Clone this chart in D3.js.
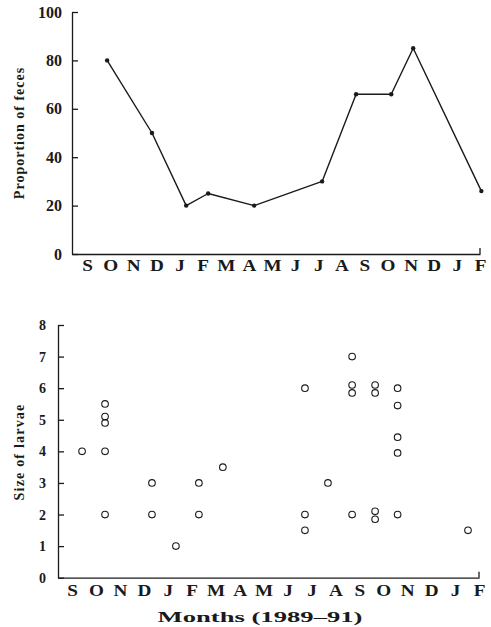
<!DOCTYPE html>
<html>
<head>
<meta charset="utf-8">
<script src="https://cdn.jsdelivr.net/npm/d3@7"></script>
<style>
  body { margin: 0; background: #fff; }
  svg { display: block; }
  .axis text { font-family: "Liberation Serif", "DejaVu Serif", serif; font-weight: bold; fill: #1a1a1a; }
  .axis path, .axis line { stroke: #1a1a1a; stroke-width: 1.3; }
</style>
</head>
<body>
<div class="chart"></div>
<script>
// month labels on both x axes (Sep 1989 .. Feb 1991)
const months = ["S","O","N","D","J","F","M","A","M","J","J","A","S","O","N","D","J","F"];

// top panel: proportion of feces, x as fractional month index
const fecesMonth = [0.87, 2.81, 4.29, 5.24, 7.23, 10.17, 11.64, 13.16, 14.11, 17.06];
const fecesValue = [80, 50, 20, 25, 20, 30, 66, 66, 85, 26];
const fecesTicks = [0, 20, 40, 60, 80, 100];

// bottom panel: size of larvae
const larvaeMonth = [0.42, 1.38, 1.38, 1.38, 1.38, 1.38, 3.34, 3.34, 4.34, 5.3, 5.3, 6.3,
                     9.73, 9.73, 9.73, 10.69, 11.7, 11.7, 11.7, 11.7, 12.66, 12.66, 12.66, 12.66,
                     13.6, 13.6, 13.6, 13.6, 13.6, 16.54];
const larvaeSize = [4, 5.5, 5.1, 4.9, 4, 2, 3, 2, 1, 3, 2, 3.5,
                    6, 2, 1.5, 3, 7, 6.1, 5.85, 2, 6.1, 5.85, 2.1, 1.85,
                    6, 5.45, 4.45, 3.95, 2, 1.5];
const larvaeTicks = [0, 1, 2, 3, 4, 5, 6, 7, 8];

const W = 491, H = 627;
const ink = "#1a1a1a";

const svg = d3.select(".chart").append("svg")
    .attr("width", W)
    .attr("height", H);

// month letters in the scan are set in a wide face, so stretch them a bit
const widen = (sel) => sel.style("font-size", "16px").attr("transform", "scale(1.2,1)");

// ---------- top panel ----------
const x1 = d3.scaleLinear().domain([-0.65, 17]).range([72, 480]);
const y1 = d3.scaleLinear().domain([0, 100]).range([254, 12]);

svg.append("g")
    .attr("class", "axis")
    .attr("transform", "translate(72,0)")
    .call(d3.axisLeft(y1).tickValues(fecesTicks).tickSize(-6).tickSizeOuter(0).tickPadding(10))
    .selectAll("text").style("font-size", "16px");

svg.append("g")
    .attr("class", "axis")
    .attr("transform", "translate(0,254)")
    .call(d3.axisBottom(x1).tickValues(d3.range(months.length)).tickFormat((d, i) => months[i])
        .tickSize(0).tickSizeOuter(0).tickPadding(6))
    .selectAll("text").call(widen);

svg.append("line")
    .attr("x1", x1(17)).attr("x2", x1(17))
    .attr("y1", 254).attr("y2", 248)
    .attr("stroke", ink).attr("stroke-width", 1.3);

const lineFunc = d3.line()
    .x((d, i) => x1(fecesMonth[i]))
    .y((d) => y1(d));

svg.append("path")
    .attr("d", lineFunc(fecesValue))
    .attr("fill", "none")
    .attr("stroke", ink)
    .attr("stroke-width", 1.4)
    .attr("stroke-linejoin", "round");

svg.selectAll(".dot")
    .data(fecesValue)
    .enter().append("circle")
    .attr("class", "dot")
    .attr("cx", (d, i) => x1(fecesMonth[i]))
    .attr("cy", (d) => y1(d))
    .attr("r", 2.2)
    .attr("fill", ink);

svg.append("text")
    .attr("transform", "translate(24,133) rotate(-90)")
    .attr("text-anchor", "middle")
    .style("font-family", "'Liberation Serif', serif")
    .style("font-weight", "bold")
    .style("font-size", "14px")
    .style("letter-spacing", "1px")
    .attr("fill", ink)
    .text("Proportion of feces");

// ---------- bottom panel ----------
const x2 = d3.scaleLinear().domain([-0.585, 17]).range([58, 479]);
const y2 = d3.scaleLinear().domain([0, 8]).range([577.7, 325]);

svg.append("g")
    .attr("class", "axis")
    .attr("transform", "translate(58,0)")
    .call(d3.axisLeft(y2).tickValues(larvaeTicks).tickSize(-6).tickSizeOuter(0).tickPadding(12))
    .selectAll("text").style("font-size", "14px");

svg.append("g")
    .attr("class", "axis")
    .attr("transform", "translate(0,577.7)")
    .call(d3.axisBottom(x2).tickValues(d3.range(months.length)).tickFormat((d, i) => months[i])
        .tickSize(0).tickSizeOuter(0).tickPadding(7))
    .selectAll("text").call(widen);

svg.append("line")
    .attr("x1", x2(17)).attr("x2", x2(17))
    .attr("y1", 577.7).attr("y2", 571.7)
    .attr("stroke", ink).attr("stroke-width", 1.3);

svg.selectAll(".larva")
    .data(larvaeSize)
    .enter().append("circle")
    .attr("class", "larva")
    .attr("cx", (d, i) => x2(larvaeMonth[i]))
    .attr("cy", (d) => y2(d))
    .attr("r", 3.3)
    .attr("fill", "none")
    .attr("stroke", ink)
    .attr("stroke-width", 1.1);

svg.append("text")
    .attr("transform", "translate(24,452) rotate(-90)")
    .attr("text-anchor", "middle")
    .style("font-family", "'Liberation Serif', serif")
    .style("font-weight", "bold")
    .style("font-size", "14px")
    .style("letter-spacing", "1.2px")
    .attr("fill", ink)
    .text("Size of larvae");

svg.append("text")
    .attr("x", 260)
    .attr("y", 622)
    .attr("text-anchor", "middle")
    .attr("textLength", 205)
    .attr("lengthAdjust", "spacingAndGlyphs")
    .style("font-family", "'Liberation Serif', serif")
    .style("font-weight", "bold")
    .style("font-size", "15px")
    .attr("fill", ink)
    .text("Months (1989\u201391)");
</script>
</body>
</html>
